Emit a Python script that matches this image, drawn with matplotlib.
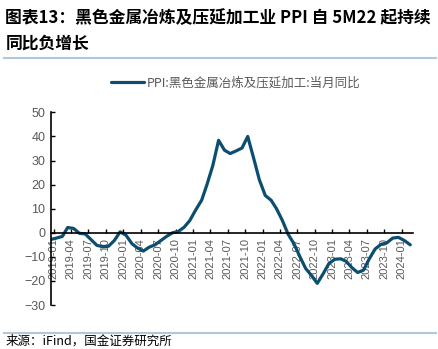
import matplotlib
matplotlib.use('Agg')
import matplotlib.pyplot as plt
import matplotlib.dates as mdates
import pandas as pd

plt.rcParams['font.family'] = ['Noto Sans CJK SC', 'DejaVu Sans']

# monthly points, 2018-12 .. 2024-02 (drawn mid-month)
dates = pd.date_range('2018-12-01', periods=63, freq='MS') + pd.Timedelta(days=14)
ppi_yoy = [-2.8, -2.2, -1.5, 2.2, 1.8, -0.2, -0.5, -2.8, -5.2, -5.8,
           -5.6, -3.2, 0.4, -1.0, -4.5, -6.3, -7.6, -6.0, -5.0, -3.3,
           -1.5, 0.0, 0.5, 2.3, 5.1, 9.5, 13.5, 20.0, 28.0, 38.4,
           34.3, 32.9, 34.0, 35.2, 40.0, 31.0, 22.0, 15.5, 13.5, 10.0,
           5.1, -0.6, -4.6, -9.8, -14.8, -17.8, -21.0, -17.0, -12.8, -11.0,
           -10.8, -11.8, -14.5, -16.5, -15.5, -10.8, -6.7, -4.8, -4.2, -2.2,
           -1.9, -3.2, -5.0]

title = '图表13：黑色金属冶炼及压延加工业 PPI 自 5M22 起持续\n同比负增长'
legend_label = 'PPI:黑色金属冶炼及压延加工:当月同比'
source = '来源：iFind，国金证券研究所'

line_color = '#0c4e70'
gray = '#595959'

fig = plt.figure(figsize=(4.39, 3.49), dpi=100)
ax = fig.add_axes([0.116, 0.126, 0.825, 0.552])

ax.plot(dates, ppi_yoy, color=line_color, lw=2.3, label=legend_label,
        solid_capstyle='round', solid_joinstyle='round')

ax.set_ylim(-30, 50)
ax.set_yticks(range(-30, 51, 10))
ax.set_xlim(pd.Timestamp('2018-12-17'), pd.Timestamp('2024-03-01'))
ax.xaxis.set_major_locator(mdates.MonthLocator(bymonth=[1, 4, 7, 10]))
ax.xaxis.set_major_formatter(mdates.DateFormatter('%Y-%m'))

ax.spines['top'].set_visible(False)
ax.spines['right'].set_visible(False)
ax.spines['bottom'].set_position(('data', 0))
ax.spines['bottom'].set_linewidth(1.2)
ax.spines['left'].set_linewidth(1.2)

ax.tick_params(axis='x', direction='in', length=3, width=1, pad=4,
               labelrotation=90, labelsize=8, labelcolor=gray)
ax.tick_params(axis='y', direction='in', length=3, width=1, pad=4,
               labelsize=9, labelcolor=gray)
for lab in ax.get_xticklabels() + ax.get_yticklabels():
    lab.set_family(['Liberation Sans', 'DejaVu Sans'])
for lab in ax.get_xticklabels():
    lab.set_verticalalignment('top')

ax.legend(loc='upper center', bbox_to_anchor=(0.51, 1.245), frameon=False,
          fontsize=9, labelcolor=gray, handlelength=2.6, handletextpad=0.2)

fig.text(0.012, 0.975, title, fontsize=12.1, fontweight='bold', color='black',
         va='top', linespacing=1.55)
fig.add_artist(plt.Line2D([0.01, 0.993], [0.834, 0.834], color='#b4c7d6', lw=1.5))
fig.add_artist(plt.Line2D([0.01, 0.993], [0.046, 0.046], color='#b4c7d6', lw=1.5))
fig.text(0.012, 0.003, source, fontsize=9, color='black', va='bottom')

fig.savefig('out.png', dpi=100)
